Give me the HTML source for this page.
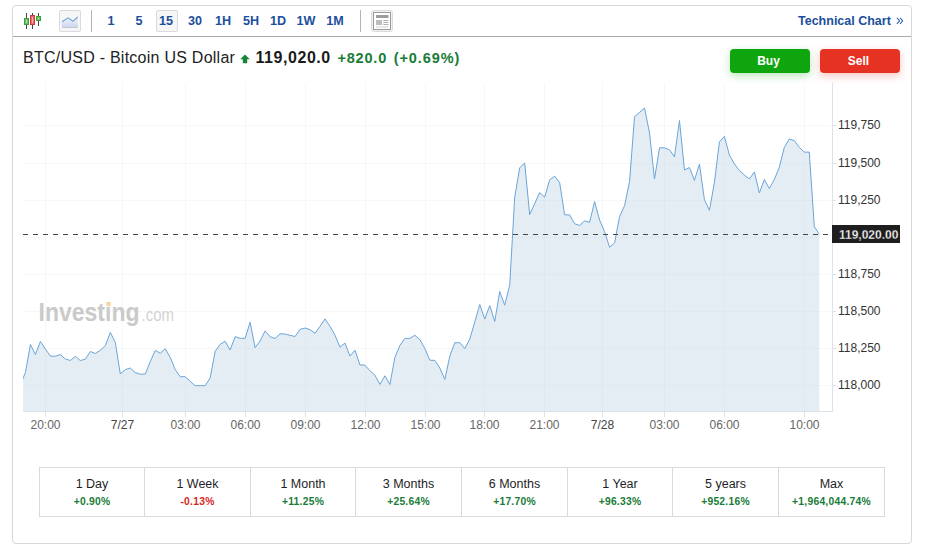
<!DOCTYPE html>
<html><head><meta charset="utf-8">
<style>
html,body{margin:0;padding:0;background:#fff;width:925px;height:551px;overflow:hidden;font-family:"Liberation Sans",sans-serif;}
.a{position:absolute;}
#box{position:absolute;left:12px;top:5px;width:898px;height:537px;border:1px solid #d8d8d8;border-radius:4px;}
#tbline{position:absolute;left:13px;top:36px;width:898px;height:1px;background:#ababab;}
.tb{position:absolute;top:13px;height:16px;line-height:16px;font-size:12.6px;font-weight:bold;color:#1b4f9c;text-align:center;width:30px;}
.ibox{position:absolute;top:10px;width:20px;height:20px;border:1px solid #dadada;border-radius:2px;background:#f6f6f6;}
.sep{position:absolute;top:10px;width:1px;height:22px;background:#b3b3b3;}
#title{position:absolute;left:23px;top:48px;font-size:16px;line-height:20px;color:#222;white-space:nowrap;letter-spacing:0.25px;}
.btn{position:absolute;top:49px;width:77px;padding-right:3px;height:24px;border-radius:4px;color:#fff;font-weight:bold;font-size:12px;line-height:24px;text-align:center;}
#perf{position:absolute;left:39px;top:467px;width:844px;height:48px;border:1px solid #d9d9de;}
.vd{position:absolute;top:468px;width:1px;height:48px;background:#d9d9de;}
.cell{position:absolute;top:468px;text-align:center;height:48px;}
.cell .p{font-size:12.5px;color:#1e1e28;margin-top:8px;line-height:16px;}
.cell .v{font-size:10.3px;font-weight:bold;margin-top:3px;line-height:13px;letter-spacing:0.25px;}
.g{color:#187c37;} .r{color:#d9261c;}
</style></head><body>
<div id="box"></div>
<div id="tbline"></div>
<!-- candlestick icon -->
<svg class="a" style="left:0;top:0" width="60" height="36" viewBox="0 0 60 36">
<g shape-rendering="crispEdges">
<rect x="26" y="13" width="1" height="16" fill="#444"/>
<rect x="32" y="13" width="1" height="16" fill="#444"/>
<rect x="38" y="13" width="1" height="13" fill="#444"/>
<rect x="24" y="18" width="5" height="7" fill="#3f9f3f"/>
<rect x="25" y="19" width="3" height="5" fill="#6cc06c"/>
<rect x="26" y="20" width="1" height="3" fill="#b5e0b5"/>
<rect x="30" y="15" width="5" height="10" fill="#d23a3a"/>
<rect x="31" y="16" width="3" height="8" fill="#ea6a6a"/>
<rect x="32" y="17" width="1" height="6" fill="#f7b0b0"/>
<rect x="36" y="16" width="5" height="5" fill="#3f9f3f"/>
<rect x="37" y="17" width="3" height="3" fill="#6cc06c"/>
<rect x="38" y="18" width="1" height="1" fill="#b5e0b5"/>
</g>
</svg>
<div class="ibox" style="left:59px"></div>
<svg class="a" style="left:59px;top:10px" width="22" height="22" viewBox="0 0 22 22">
<defs><linearGradient id="lg" x1="0" y1="0" x2="0" y2="1"><stop offset="0" stop-color="#f2f5fb"/><stop offset="1" stop-color="#c9d6f0"/></linearGradient></defs>
<path d="M3,11.7 L9.2,7.9 L13.9,11.3 L18.8,7 L18.8,17.5 L3,17.5 Z" fill="url(#lg)"/>
<rect x="3" y="17" width="15.8" height="1" fill="#c4c6cf"/>
<path d="M3,11.7 L9.2,7.9 L13.9,11.3 L18.8,7" fill="none" stroke="#72a0d6" stroke-width="1.1"/>
</svg>
<div class="sep" style="left:91px"></div>
<div class="tb" style="left:96px">1</div>
<div class="tb" style="left:124px">5</div>
<div class="ibox" style="left:156px"></div>
<div class="tb" style="left:151px">15</div>
<div class="tb" style="left:180px">30</div>
<div class="tb" style="left:208px">1H</div>
<div class="tb" style="left:236px">5H</div>
<div class="tb" style="left:263px">1D</div>
<div class="tb" style="left:291px">1W</div>
<div class="tb" style="left:320px">1M</div>
<div class="sep" style="left:360px"></div>
<!-- layout icon -->
<svg class="a" style="left:371px;top:10px" width="22" height="22" viewBox="0 0 22 22">
<rect x="0.5" y="0.5" width="21" height="21" rx="2" fill="#f1f1f1" stroke="#dcdcdc"/>
<rect x="2.5" y="2.5" width="17" height="17" fill="#fff" stroke="#9a9a9a"/>
<rect x="5" y="5" width="12.5" height="3" fill="#9c9c9c"/>
<rect x="5" y="10" width="6" height="5" fill="#bdbdbd"/>
<rect x="12.3" y="10" width="5.2" height="1" fill="#b0b0b0"/>
<rect x="12.3" y="12" width="5.2" height="1" fill="#b0b0b0"/>
<rect x="12.3" y="14" width="5.2" height="1" fill="#b0b0b0"/>
<rect x="5" y="16.5" width="12.5" height="1" fill="#cfcfcf"/>
</svg>
<div class="a" style="left:798px;top:13px;font-size:12.5px;font-weight:bold;color:#1b4f9c;line-height:16px;white-space:nowrap;">Technical Chart</div>
<svg class="a" style="left:894px;top:14px" width="12" height="14" viewBox="0 0 12 14"><path d="M3.2,4.2 L5.6,6.9 L3.2,9.6 M6.3,4.2 L8.7,6.9 L6.3,9.6" fill="none" stroke="#2f64ac" stroke-width="1.05" stroke-linecap="round" stroke-linejoin="round"/></svg>

<div id="title">BTC/USD - Bitcoin US Dollar <svg width="10" height="10" viewBox="0 0 10 10" style="vertical-align:-1px;margin-left:0px"><path d="M5,0.6 L9.8,5.2 L7.2,5.2 L7.2,9.3 L2.8,9.3 L2.8,5.2 L0.2,5.2 Z" fill="#17843a"/></svg> <b style="color:#1a1a1a;letter-spacing:0.55px;margin-left:1px">119,020.0</b> <b class="g" style="font-size:14.5px;letter-spacing:0.8px;margin-left:2px">+820.0</b> <b class="g" style="font-size:14.5px;letter-spacing:0.9px;margin-left:2px">(+0.69%)</b></div>

<div class="btn" style="left:730px;background:#0ea50e;box-shadow:0 3px 8px rgba(14,165,14,0.28)">Buy</div>
<div class="btn" style="left:820px;background:#e63222;box-shadow:0 3px 8px rgba(230,50,34,0.28)">Sell</div>

<svg class="a" style="left:0;top:0" width="925" height="551" viewBox="0 0 925 551">
<defs><clipPath id="pc"><rect x="23" y="83" width="809" height="328"/></clipPath></defs>

<g shape-rendering="crispEdges" fill="none">
<g stroke="#f7f7f7" stroke-width="1">
<path d="M24,125.5H831 M24,163.5H831 M24,200.5H831 M24,237.5H831 M24,274.5H831 M24,311.5H831 M24,348.5H831 M24,385.5H831"/>
<path d="M45.5,83V411 M122.5,83V411 M185.5,83V411 M245.5,83V411 M305.5,83V411 M365.5,83V411 M425.5,83V411 M484.5,83V411 M544.5,83V411 M602.5,83V411 M664.5,83V411 M724.5,83V411 M804.5,83V411"/>
</g>
</g>
<path d="M20.44,384.7 L25.43,372.4 L30.42,344.5 L35.41,354.5 L40.41,341.5 L45.4,349 L50.39,356.1 L55.39,356.2 L60.38,354.5 L65.37,359 L70.36,360.5 L75.36,356.4 L80.35,360.5 L85.34,359.2 L90.33,351.5 L95.33,353.5 L100.32,350.3 L105.31,345.7 L110.31,332.4 L115.3,342.4 L120.29,373.8 L125.28,369.7 L130.28,368 L135.27,372.6 L140.26,374.2 L145.25,374 L150.25,361.7 L155.24,350.3 L160.23,353.3 L165.22,348.8 L170.22,357.3 L175.21,369.6 L180.2,376.7 L185.2,376.7 L190.19,381.3 L195.18,385.7 L200.17,385.7 L205.17,385.7 L210.16,378 L215.15,351.3 L220.14,344.3 L225.14,341.3 L230.13,350 L235.12,336.7 L240.12,338.3 L245.11,338.3 L250.1,322.2 L255.09,347.6 L260.09,341 L265.08,330.9 L270.07,336.7 L275.06,338.5 L280.06,333.8 L285.05,334 L290.04,335.3 L295.04,336.5 L300.03,329.4 L305.02,328 L310.01,329.6 L315.01,333.4 L320,326.3 L324.99,318.9 L329.98,326.3 L334.98,335.2 L339.97,347.2 L344.96,343.1 L349.95,356.1 L354.95,350.2 L359.94,364.9 L364.93,365.1 L369.93,370.8 L374.92,375.2 L379.91,384.4 L384.9,375.8 L389.9,384.5 L394.89,357.4 L399.88,345.5 L404.87,338.4 L409.87,338.4 L414.86,335.3 L419.85,339.5 L424.85,348.4 L429.84,360.2 L434.83,360.4 L439.82,368 L444.82,379.4 L449.81,356.2 L454.8,342.7 L459.79,342.7 L464.79,348.6 L469.78,339.1 L474.77,322 L479.76,304.5 L484.76,319 L489.75,305.6 L494.74,321.5 L499.74,291.5 L504.73,305.2 L509.72,285 L514.71,197.2 L519.71,167.7 L524.7,163.1 L529.69,214.6 L534.68,203.7 L539.68,192.5 L544.67,197.2 L549.66,179.8 L554.66,176.1 L559.65,182.6 L564.64,214.8 L569.63,214.9 L574.63,223.8 L579.62,225.4 L584.61,220.9 L589.6,222.3 L594.6,201.6 L599.59,220 L604.58,231.5 L609.58,247.3 L614.57,242.9 L619.56,216.6 L624.55,205.7 L629.55,181.5 L634.54,116.7 L639.53,112.4 L644.52,108 L649.52,133 L654.51,179 L659.5,147.8 L664.49,147.8 L669.49,149.8 L674.48,156.8 L679.47,120.5 L684.47,170 L689.46,167.5 L694.45,180.4 L699.44,164.1 L704.44,199.8 L709.43,210.3 L714.42,182.6 L719.41,142 L724.41,136.3 L729.4,155 L734.39,163.9 L739.39,170.5 L744.38,175 L749.37,179 L754.36,171.9 L759.36,193 L764.35,179.5 L769.34,188.6 L774.33,179.5 L779.33,167.1 L784.32,147.4 L789.31,139.1 L794.3,140.6 L799.3,147.4 L804.29,152.1 L809.28,152.1 L814.28,226.4 L819.27,234.3 L819.27,411 L20.44,411 Z" fill="rgb(190,210,228)" fill-opacity="0.4" clip-path="url(#pc)"/>
<!-- watermark -->
<text x="38.5" y="321.2" font-family="Liberation Sans" font-weight="bold" font-size="25" fill="#cacaca" textLength="101" lengthAdjust="spacingAndGlyphs">Investing</text>
<path d="M107.2,302.3 L111.2,302.3 L110.4,306.2 L106.4,306.2 Z" fill="#fbd6a2"/>
<text x="141.5" y="321.3" font-family="Liberation Sans" font-size="18" fill="#d2d2d2" textLength="32.5" lengthAdjust="spacingAndGlyphs">.com</text>
<path d="M20.44,384.7 L25.43,372.4 L30.42,344.5 L35.41,354.5 L40.41,341.5 L45.4,349 L50.39,356.1 L55.39,356.2 L60.38,354.5 L65.37,359 L70.36,360.5 L75.36,356.4 L80.35,360.5 L85.34,359.2 L90.33,351.5 L95.33,353.5 L100.32,350.3 L105.31,345.7 L110.31,332.4 L115.3,342.4 L120.29,373.8 L125.28,369.7 L130.28,368 L135.27,372.6 L140.26,374.2 L145.25,374 L150.25,361.7 L155.24,350.3 L160.23,353.3 L165.22,348.8 L170.22,357.3 L175.21,369.6 L180.2,376.7 L185.2,376.7 L190.19,381.3 L195.18,385.7 L200.17,385.7 L205.17,385.7 L210.16,378 L215.15,351.3 L220.14,344.3 L225.14,341.3 L230.13,350 L235.12,336.7 L240.12,338.3 L245.11,338.3 L250.1,322.2 L255.09,347.6 L260.09,341 L265.08,330.9 L270.07,336.7 L275.06,338.5 L280.06,333.8 L285.05,334 L290.04,335.3 L295.04,336.5 L300.03,329.4 L305.02,328 L310.01,329.6 L315.01,333.4 L320,326.3 L324.99,318.9 L329.98,326.3 L334.98,335.2 L339.97,347.2 L344.96,343.1 L349.95,356.1 L354.95,350.2 L359.94,364.9 L364.93,365.1 L369.93,370.8 L374.92,375.2 L379.91,384.4 L384.9,375.8 L389.9,384.5 L394.89,357.4 L399.88,345.5 L404.87,338.4 L409.87,338.4 L414.86,335.3 L419.85,339.5 L424.85,348.4 L429.84,360.2 L434.83,360.4 L439.82,368 L444.82,379.4 L449.81,356.2 L454.8,342.7 L459.79,342.7 L464.79,348.6 L469.78,339.1 L474.77,322 L479.76,304.5 L484.76,319 L489.75,305.6 L494.74,321.5 L499.74,291.5 L504.73,305.2 L509.72,285 L514.71,197.2 L519.71,167.7 L524.7,163.1 L529.69,214.6 L534.68,203.7 L539.68,192.5 L544.67,197.2 L549.66,179.8 L554.66,176.1 L559.65,182.6 L564.64,214.8 L569.63,214.9 L574.63,223.8 L579.62,225.4 L584.61,220.9 L589.6,222.3 L594.6,201.6 L599.59,220 L604.58,231.5 L609.58,247.3 L614.57,242.9 L619.56,216.6 L624.55,205.7 L629.55,181.5 L634.54,116.7 L639.53,112.4 L644.52,108 L649.52,133 L654.51,179 L659.5,147.8 L664.49,147.8 L669.49,149.8 L674.48,156.8 L679.47,120.5 L684.47,170 L689.46,167.5 L694.45,180.4 L699.44,164.1 L704.44,199.8 L709.43,210.3 L714.42,182.6 L719.41,142 L724.41,136.3 L729.4,155 L734.39,163.9 L739.39,170.5 L744.38,175 L749.37,179 L754.36,171.9 L759.36,193 L764.35,179.5 L769.34,188.6 L774.33,179.5 L779.33,167.1 L784.32,147.4 L789.31,139.1 L794.3,140.6 L799.3,147.4 L804.29,152.1 L809.28,152.1 L814.28,226.4 L819.27,234.3" fill="none" stroke="#6aa5d8" stroke-width="1" stroke-linejoin="round" clip-path="url(#pc)"/>
<path d="M23,234.5H832" stroke="#464646" stroke-width="1" stroke-dasharray="5,5" shape-rendering="crispEdges"/>
<g shape-rendering="crispEdges" fill="none" stroke="#dde2ea">
<path d="M832.5,83V412"/>
<path d="M23,411.5H832"/>
<path d="M833,125.5h3 M833,163.5h3 M833,200.5h3 M833,237.5h3 M833,274.5h3 M833,311.5h3 M833,348.5h3 M833,385.5h3"/>
<path d="M45.5,412v5 M122.5,412v5 M185.5,412v5 M245.5,412v5 M305.5,412v5 M365.5,412v5 M425.5,412v5 M484.5,412v5 M544.5,412v5 M602.5,412v5 M664.5,412v5 M724.5,412v5 M804.5,412v5"/>
</g>
<g font-family="Liberation Sans" font-size="12" fill="#333">
<text x="838" y="129">119,750</text>
<text x="838" y="167">119,500</text>
<text x="838" y="204">119,250</text>
<text x="838" y="278">118,750</text>
<text x="838" y="315">118,500</text>
<text x="838" y="352">118,250</text>
<text x="838" y="389">118,000</text>
</g>
<rect x="832" y="225" width="68" height="18" fill="#1e1e1e"/>
<text x="839" y="238.5" font-family="Liberation Sans" font-size="12" font-weight="bold" fill="#fff" stroke="#1e1e1e" stroke-width="0.28">119,020.00</text>
<g font-family="Liberation Sans" font-size="12" fill="#666" text-anchor="middle">
<text x="45.5" y="429">20:00</text>
<text x="122.5" y="429" fill="#444">7/27</text>
<text x="185.5" y="429">03:00</text>
<text x="245.5" y="429">06:00</text>
<text x="305.5" y="429">09:00</text>
<text x="365.5" y="429">12:00</text>
<text x="425.5" y="429">15:00</text>
<text x="484.5" y="429">18:00</text>
<text x="544.5" y="429">21:00</text>
<text x="602.5" y="429" fill="#444">7/28</text>
<text x="664.5" y="429">03:00</text>
<text x="724.5" y="429">06:00</text>
<text x="804.5" y="429">10:00</text>
</g>
</svg>

<div id="perf"></div>
<div class="cell" style="left:40px;width:104px"><div class="p">1 Day</div><div class="v g">+0.90%</div></div>
<div class="cell" style="left:145px;width:105px"><div class="p">1 Week</div><div class="v r">-0.13%</div></div>
<div class="cell" style="left:251px;width:104px"><div class="p">1 Month</div><div class="v g">+11.25%</div></div>
<div class="cell" style="left:356px;width:105px"><div class="p">3 Months</div><div class="v g">+25.64%</div></div>
<div class="cell" style="left:462px;width:105px"><div class="p">6 Months</div><div class="v g">+17.70%</div></div>
<div class="cell" style="left:568px;width:104px"><div class="p">1 Year</div><div class="v g">+96.33%</div></div>
<div class="cell" style="left:673px;width:105px"><div class="p">5 years</div><div class="v g">+952.16%</div></div>
<div class="cell" style="left:779px;width:105px"><div class="p">Max</div><div class="v g">+1,964,044.74%</div></div>
<div class="vd" style="left:144px"></div>
<div class="vd" style="left:250px"></div>
<div class="vd" style="left:355px"></div>
<div class="vd" style="left:461px"></div>
<div class="vd" style="left:567px"></div>
<div class="vd" style="left:672px"></div>
<div class="vd" style="left:778px"></div>
</body></html>
